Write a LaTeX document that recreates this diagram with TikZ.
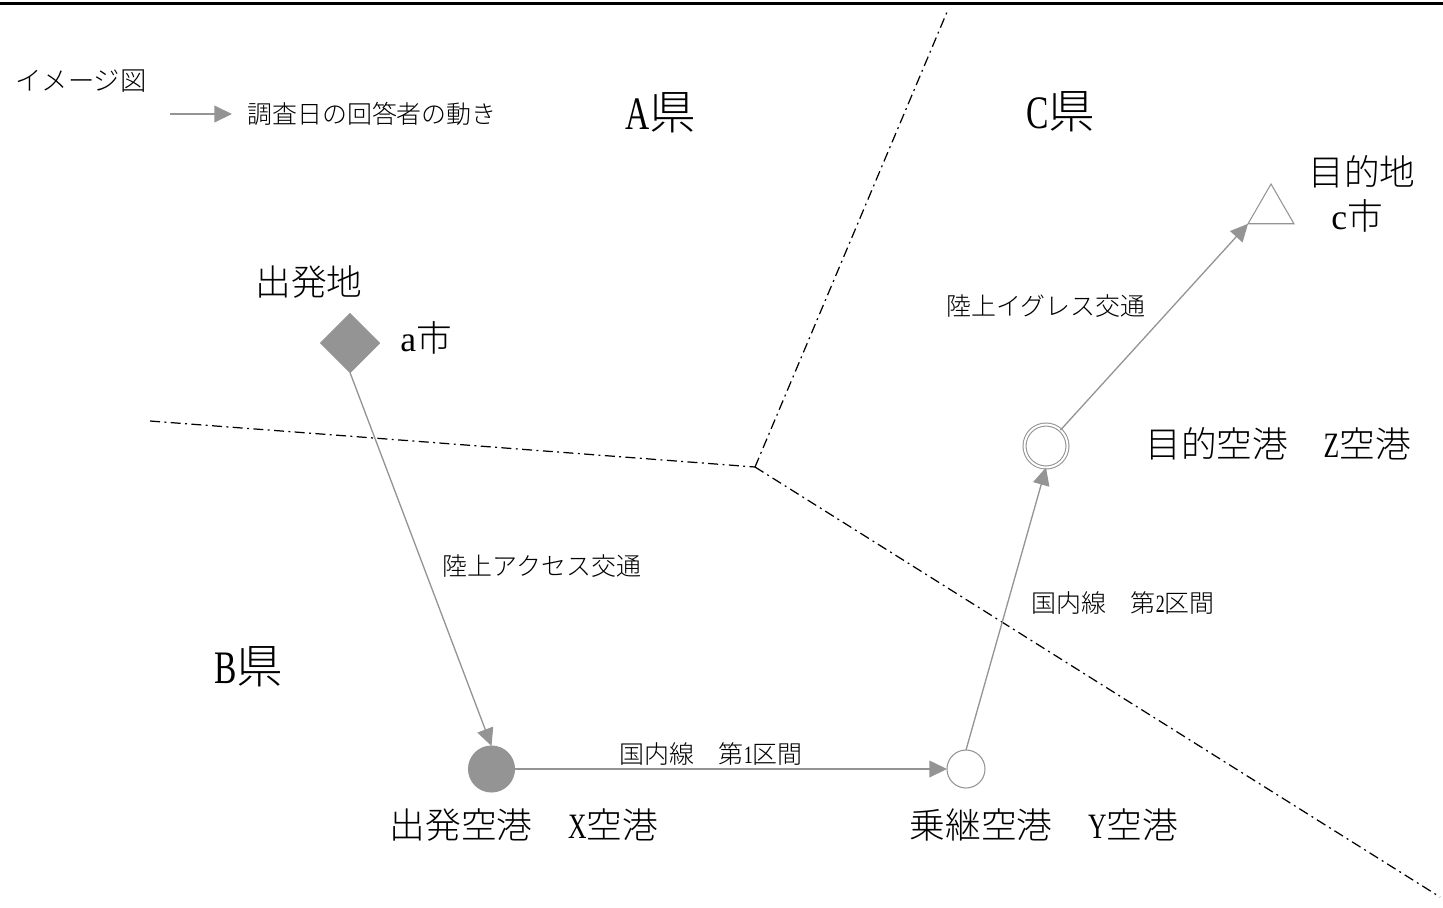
\documentclass[tikz,border=0pt]{standalone}
\usepackage{fontspec}
\setmainfont{Noto Sans CJK JP}[UprightFont=* Light]
\newfontfamily\latin{Liberation Serif}[FakeStretch=0.72]
\newfontfamily\latinwide{Liberation Serif}
\usetikzlibrary{arrows.meta,shapes.geometric}
\newcommand{\lat}[1]{{\latin #1}}
\newcommand{\latw}[1]{{\latinwide #1}}
\begin{document}
\begin{tikzpicture}
        [x=0.02cm, y=-0.02cm,
        bigtext/.style={font=\fontsize{26.5pt}{30pt}\selectfont, inner sep=0pt},
        midtext/.style={font=\fontsize{20.3pt}{24pt}\selectfont, inner sep=0pt},
        smalltext/.style={font=\fontsize{14.2pt}{17pt}\selectfont, inner sep=0pt},
        border/.style={black, line width=0.7pt, dash pattern=on 5.7pt off 2.5pt on 1.1pt off 2.5pt},
        move/.style={draw=movegray, line width=0.75pt, -{Triangle[length=10pt, width=9.5pt, fill=movegray]}},
        place/.style={draw=movegray, line width=0.6pt, inner sep=0pt, outer sep=0pt}]
        \definecolor{movegray}{gray}{0.58}

        \useasboundingbox (0,0) rectangle (1443,907);
        \coordinate (ruleL) at (0,3.5);
        \coordinate (ruleR) at (1443,3.5);
        \draw[black, line width=1.4pt] (ruleL) -- (ruleR);

        % Prefecture borders
        \coordinate (meet) at (755,467);
        \coordinate (west) at (150,421);
        \coordinate (north) at (947,12);
        \coordinate (south) at (1440,897);
        \draw[border] (west) -- (meet);
        \draw[border] (meet) -- (north);
        \draw[border] (meet) -- (south);

        % Places
        \node[place, fill=movegray, diamond, minimum width=1.18cm, minimum height=1.18cm] (origin) at (350,343) {};
        \node[place, fill=movegray, circle, minimum size=0.92cm] (xport) at (491.5,769) {};
        \node[place, fill=white, circle, minimum size=0.76cm] (yport) at (966,769) {};
        \node[place, fill=white, circle, double=white, double distance=1.1pt, minimum size=0.86cm] (zport) at (1046,446) {};
        \node[place, fill=white, regular polygon, regular polygon sides=3, minimum size=1.06cm] (dest) at (1271,210.5) {};

        % Labels
        \node[smalltext, font=\fontsize{15pt}{18pt}\selectfont] (title) at (81,81) {イメージ図};
        \node[smalltext] (legend) at (372,114) {調査日の回答者の動き};
        \node[bigtext] (apref) at (661,113) {\lat{A}県};
        \node[bigtext] (cpref) at (1061,112) {\lat{C}県};
        \node[bigtext] (bpref) at (249,667) {\lat{B}県};
        \node[midtext] (destname) at (1362,172) {目的地};
        \node[midtext] (destcity) at (1357,216) {\latw{c}市};
        \node[midtext] (origname) at (309,282) {出発地};
        \node[midtext] (origcity) at (426,338) {\latw{a}市};
        \node[midtext] (zname) at (1278,444) {目的空港　\lat{Z}空港};
        \node[midtext] (xname) at (524,825) {出発空港　\lat{X}空港};
        \node[midtext] (yname) at (1044,825) {乗継空港　\lat{Y}空港};
        \node[smalltext] (egress) at (1046,306) {陸上イグレス交通};
        \node[smalltext] (access) at (542,566) {陸上アクセス交通};
        \node[smalltext] (leg2) at (1123,603) {国内線　第\lat{2}区間};
        \node[smalltext] (leg1) at (711,754) {国内線　第\lat{1}区間};

        % Movements
        \coordinate (keyL) at (170,114);
        \coordinate (keyR) at (232,114);
        \draw[move] (keyL) -- (keyR);
        \draw[move] (origin.south) -- (xport.north);
        \draw[move] (xport) -- (yport);
        \draw[move] (yport.north) -- (zport.south);
        \draw[move] (zport) -- (dest.corner 2);

\end{tikzpicture}
\end{document}
